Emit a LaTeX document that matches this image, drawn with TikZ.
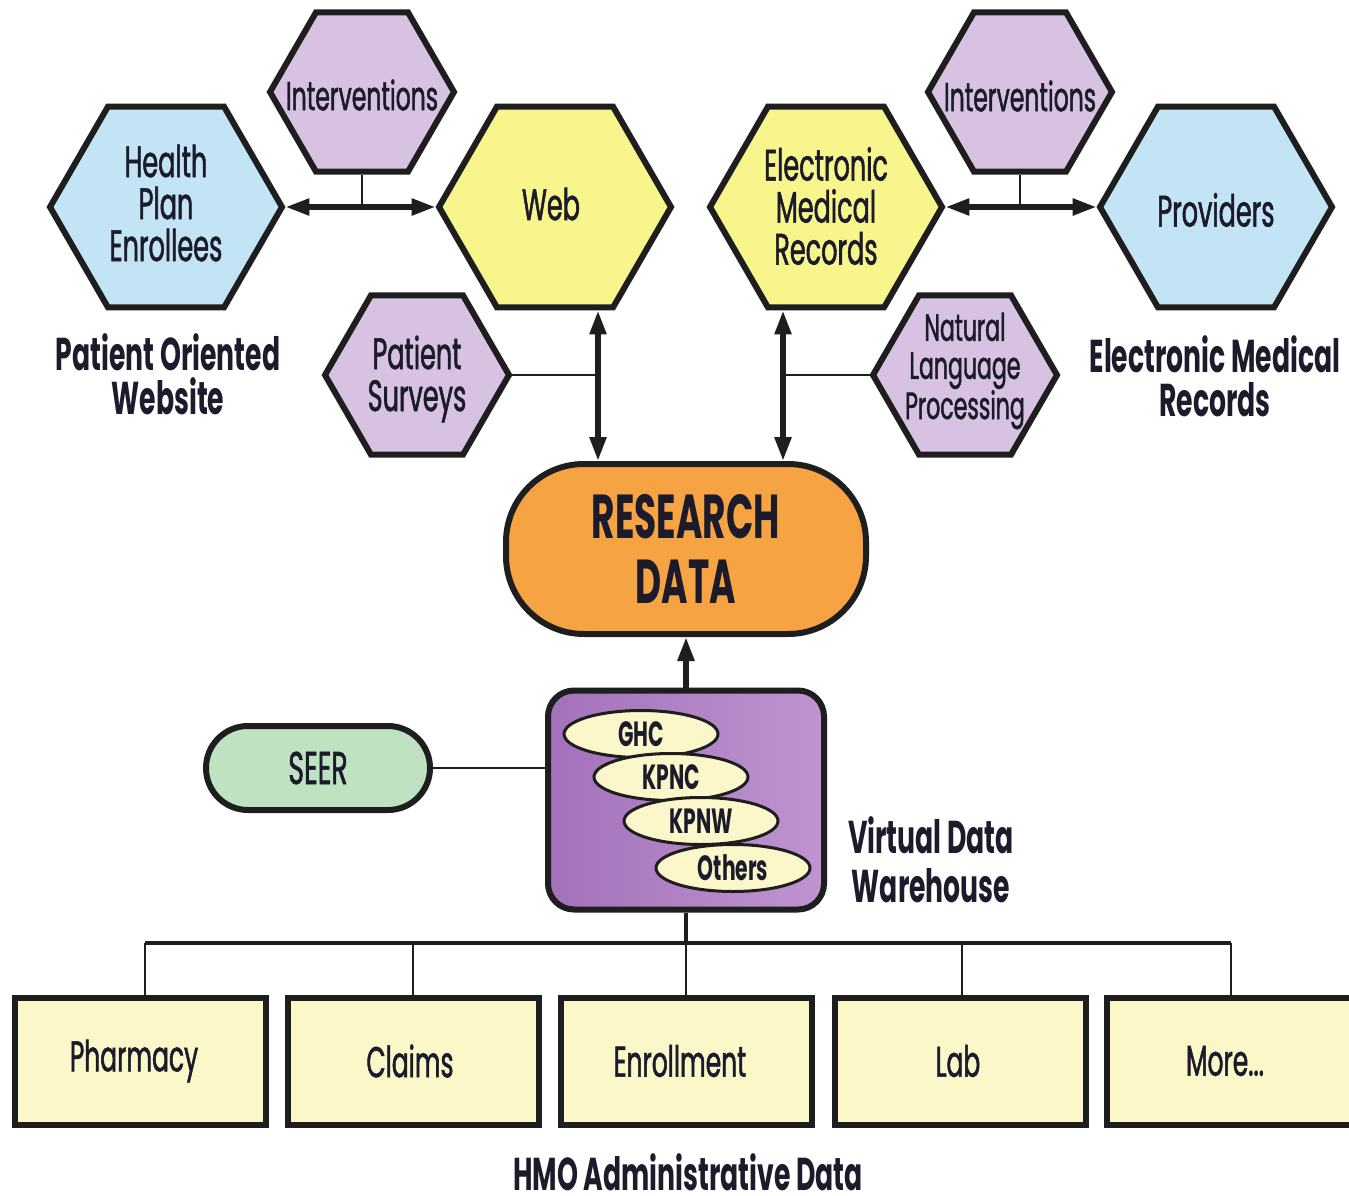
\documentclass[tikz,border=0pt]{standalone}
\usepackage{fontspec}
\setmainfont{Poppins}[FakeStretch=0.58, UprightFeatures={FakeBold=1.2}]
\usetikzlibrary{shapes.geometric,arrows.meta}
\definecolor{linecol}{HTML}{1E1E1E}
\definecolor{txtcol}{HTML}{1B1B2B}
\definecolor{hexblue}{HTML}{C2E4F5}
\definecolor{hexyellow}{HTML}{F8F58C}
\definecolor{hexpurple}{HTML}{D7C2E2}
\definecolor{rdorange}{HTML}{F5A343}
\definecolor{vdwleft}{HTML}{A371BA}
\definecolor{vdwright}{HTML}{BF94D0}
\definecolor{seergreen}{HTML}{BFE2C3}
\definecolor{ellfill}{HTML}{FCF7CA}
\definecolor{boxfill}{HTML}{FBF7C8}
\tikzset{
  hexbase/.style={regular polygon, regular polygon sides=6, draw=linecol, line width=6pt, inner sep=0pt},
  bighex/.style={hexbase, minimum size=232pt},
  smallhex/.style={hexbase, minimum size=184pt, fill=hexpurple},
  hextxt/.style={align=center, text=txtcol, font=\fontsize{44}{42}\selectfont, inner sep=0pt},
  inttxt/.style={align=center, text=txtcol, font=\fontsize{40.5}{42}\selectfont, inner sep=0pt},
  smalltxt/.style={align=center, text=txtcol, font=\fontsize{38}{38}\selectfont, inner sep=0pt},
  boldlabel/.style={align=center, text=txtcol, font=\bfseries\fontsize{46}{44}\selectfont, inner sep=0pt},
  dbl/.style={draw=linecol, line width=5.5pt, {Triangle[length=24pt,width=16pt]}-{Triangle[length=24pt,width=16pt]}},
  sgl/.style={draw=linecol, line width=5.5pt, -{Triangle[length=24pt,width=16pt]}},
  conn/.style={draw=linecol, line width=2.5pt},
  ell/.style={ellipse, draw=linecol, line width=3pt, fill=ellfill, minimum width=154pt, minimum height=47pt, inner sep=0pt, text=txtcol, font=\bfseries\fontsize{35}{30}\selectfont},
  adminbox/.style={rectangle, draw=linecol, line width=6pt, fill=boxfill, minimum width=251pt, minimum height=127pt, inner sep=0pt, text=txtcol, font=\fontsize{43}{40}\selectfont},
}
\begin{document}
\begin{tikzpicture}[x=1pt,y=-1pt]
\path[use as bounding box, fill=white] (0,0) rectangle (1349,1196);

% hexagons
\node[bighex, fill=hexblue] (hpe) at (166,207) {};
\node[hextxt] (hpe-t) at (166,203) {Health\\Plan\\Enrollees};
\node[smallhex] (intl) at (362,92) {};
\node[inttxt] (intl-t) at (362,95) {Interventions};
\node[bighex, fill=hexyellow] (web) at (555,207) {};
\node[hextxt] (web-t) at (551,204) {Web};
\node[smallhex] (ps) at (417,375) {};
\node[hextxt] (ps-t) at (417,379) {Patient\\Surveys};

\node[bighex, fill=hexyellow] (emr) at (826,207) {};
\node[hextxt] (emr-t) at (826,206) {Electronic\\Medical\\Records};
\node[smallhex] (intr) at (1020,92) {};
\node[inttxt] (intr-t) at (1020,96) {Interventions};
\node[bighex, fill=hexblue] (prov) at (1216,207) {};
\node[hextxt] (prov-t) at (1216,210) {Providers};
\node[smallhex] (nlp) at (965,375) {};
\node[smalltxt] (nlp-t) at (965,371) {Natural\\Language\\Processing};

% labels
\node[boldlabel] (pow) at (168,374) {Patient Oriented\\Website};
\node[boldlabel] (emrl) at (1215,376) {Electronic Medical\\Records};
\node[boldlabel, font=\bfseries\fontsize{46}{49}\selectfont] (vdwl) at (931,860) {Virtual Data\\Warehouse};
\node[boldlabel, anchor=base] (hmol) at (688,1190) {HMO Administrative Data};

% research data
\node[rectangle, rounded corners=78pt, draw=linecol, line width=6pt, fill=rdorange,
      minimum width=360pt, minimum height=170pt, align=center, text=txtcol,
      font=\bfseries\fontsize{62}{65}\selectfont] (rd) at (686,549) {RESEARCH\\DATA};

% VDW
\node[rectangle, rounded corners=26pt, draw=linecol, line width=6pt, left color=vdwleft, right color=vdwright,
      minimum width=276pt, minimum height=219pt] (vdw) at (686,800) {};
\node[ell] (ghc) at (641,734) {GHC};
\node[ell] (kpnc) at (671,777) {KPNC};
\node[ell] (kpnw) at (701,821) {KPNW};
\node[ell] (oth) at (733,868) {Others};

% SEER
\node[rectangle, rounded corners=42pt, draw=linecol, line width=6pt, fill=seergreen,
      minimum width=224pt, minimum height=84pt, text=txtcol,
      font=\fontsize{46}{40}\selectfont] (seer) at (318,768) {SEER};

% admin boxes
\node[adminbox] (ph) at (140,1061) {\hspace*{-12pt}Pharmacy};
\node[adminbox] (cl) at (413,1061) {\hspace*{-6pt}Claims};
\node[adminbox] (en) at (686,1061) {\hspace*{-12pt}Enrollment};
\node[adminbox] (lab) at (960,1061) {\hspace*{-4pt}Lab};
\node[adminbox] (more) at (1232,1061) {\hspace*{-14pt}More...};

% coordinates
\coordinate (cw) at (598,0);
\coordinate (ce) at (783,0);
\coordinate (bus) at (686,943);

% connectors
\draw[dbl] (hpe.east) -- (web.west);
\draw[conn] (intl.south) -- (intl.south |- hpe.east);
\draw[dbl] (emr.east) -- (prov.west);
\draw[conn] (intr.south) -- (intr.south |- emr.east);
\draw[dbl] (web.south -| cw) -- (rd.north -| cw);
\draw[conn] (ps.east) -- (ps.east -| cw);
\draw[dbl] (emr.south -| ce) -- (rd.north -| ce);
\draw[conn] (nlp.west) -- (nlp.west -| ce);
\draw[sgl] (vdw.north) -- (rd.south);
\draw[conn] (seer.east) -- (seer.east -| vdw.west);

\draw[conn, line width=3.5pt] (vdw.south) -- (bus);
\draw[conn, line width=3.5pt] ([xshift=5pt]ph.north |- bus) -- ([xshift=-1pt]more.north |- bus);
\draw[conn] ([xshift=5pt]ph.north |- bus) -- ([xshift=5pt]ph.north);
\draw[conn] (cl.north |- bus) -- (cl.north);
\draw[conn] (bus) -- (en.north);
\draw[conn] ([xshift=2pt]lab.north |- bus) -- ([xshift=2pt]lab.north);
\draw[conn] ([xshift=-1pt]more.north |- bus) -- ([xshift=-1pt]more.north);
\end{tikzpicture}
\end{document}
